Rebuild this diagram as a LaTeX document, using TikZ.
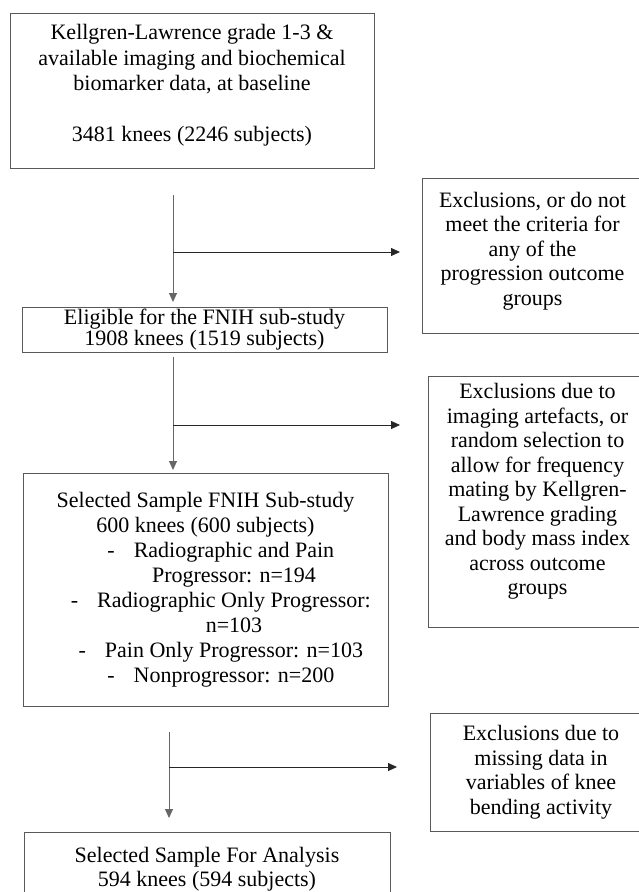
\documentclass[tikz,border=0pt]{standalone}
\usepackage{fontspec}
\setmainfont{Liberation Serif}
\usetikzlibrary{arrows.meta}
\newcommand{\contline}[1]{\hspace*{57pt}#1}
\newcommand{\dashline}[1]{\hspace*{57pt}\llap{-\hspace{19pt}}#1}
\begin{document}
\begin{tikzpicture}[x=1pt, y=-1pt,
    box/.style={draw=black!65, line width=0.9pt, align=center, inner sep=0pt,
        font=\fontsize{22}{25.5}\selectfont},
    exbox/.style={box, font=\fontsize{22}{24.5}\selectfont},
    vline/.style={draw=black!60, line width=0.9pt, -{Triangle[length=9pt,width=8pt]}},
    hline/.style={draw=black!85, line width=0.8pt, -{Triangle[length=9pt,width=8pt]}}]
    \useasboundingbox (0,0) rectangle (639,892);
    \node[box, minimum width=364pt, minimum height=155pt, text depth=15pt] (kl) at (192,90.5)
        {Kellgren-Lawrence grade 1-3 \&\\available imaging and biochemical\\biomarker data, at baseline\\[25.5pt]3481 knees (2246 subjects)};
    \node[box, minimum width=365pt, minimum height=45pt, font=\fontsize{22}{20.5}\selectfont] (elig) at (204.5,329.5)
        {Eligible for the FNIH sub-study\\1908 knees (1519 subjects)};
    \node[box, minimum width=365pt, minimum height=233pt, font=\fontsize{22}{25}\selectfont] (fnih) at (205.5,589.5)
        {Selected Sample FNIH Sub-study\\600 knees (600 subjects)\\
        \dashline{Radiographic and Pain}\\\contline{Progressor: n=194}\\
        \dashline{Radiographic Only Progressor:}\\\contline{n=103}\\
        \dashline{Pain Only Progressor: n=103}\\\dashline{Nonprogressor: n=200}};
    \node[box, minimum width=366pt, minimum height=87pt, text depth=18pt, font=\fontsize{22}{24}\selectfont] (ana) at (207,875.5)
        {Selected Sample For Analysis\\594 knees (594 subjects)};
    \node[exbox, minimum width=221pt, minimum height=155pt, text depth=14pt] (ex1) at (532.5,255.5)
        {Exclusions, or do not\\meet the criteria for\\any of the\\progression outcome\\groups};
    \node[exbox, minimum width=219pt, minimum height=251pt, text depth=25pt] (ex2) at (537.5,501.5)
        {Exclusions due to\\imaging artefacts, or\\random selection to\\allow for frequency\\mating by Kellgren-\\Lawrence grading\\and body mass index\\across outcome\\groups};
    \node[exbox, minimum width=222pt, minimum height=118pt] (ex3) at (541,772)
        {Exclusions due to\\missing data in\\variables of knee\\bending activity};
    \coordinate (kl-out) at (173,195);
    \coordinate (kl-split) at (173,252);
    \coordinate (ex1-in) at (400,252);
    \coordinate (elig-in) at (173,302);
    \coordinate (elig-out) at (173,357);
    \coordinate (elig-split) at (173,425);
    \coordinate (ex2-in) at (400,425);
    \coordinate (fnih-in) at (173,470);
    \coordinate (fnih-out) at (169,732);
    \coordinate (fnih-split) at (169,767);
    \coordinate (ex3-in) at (397,767);
    \coordinate (ana-in) at (169,818);
    \draw[vline] (kl-out) -- (elig-in);
    \draw[hline] (kl-split) -- (ex1-in);
    \draw[vline] (elig-out) -- (fnih-in);
    \draw[hline] (elig-split) -- (ex2-in);
    \draw[vline] (fnih-out) -- (ana-in);
    \draw[hline] (fnih-split) -- (ex3-in);
\end{tikzpicture}
\end{document}
